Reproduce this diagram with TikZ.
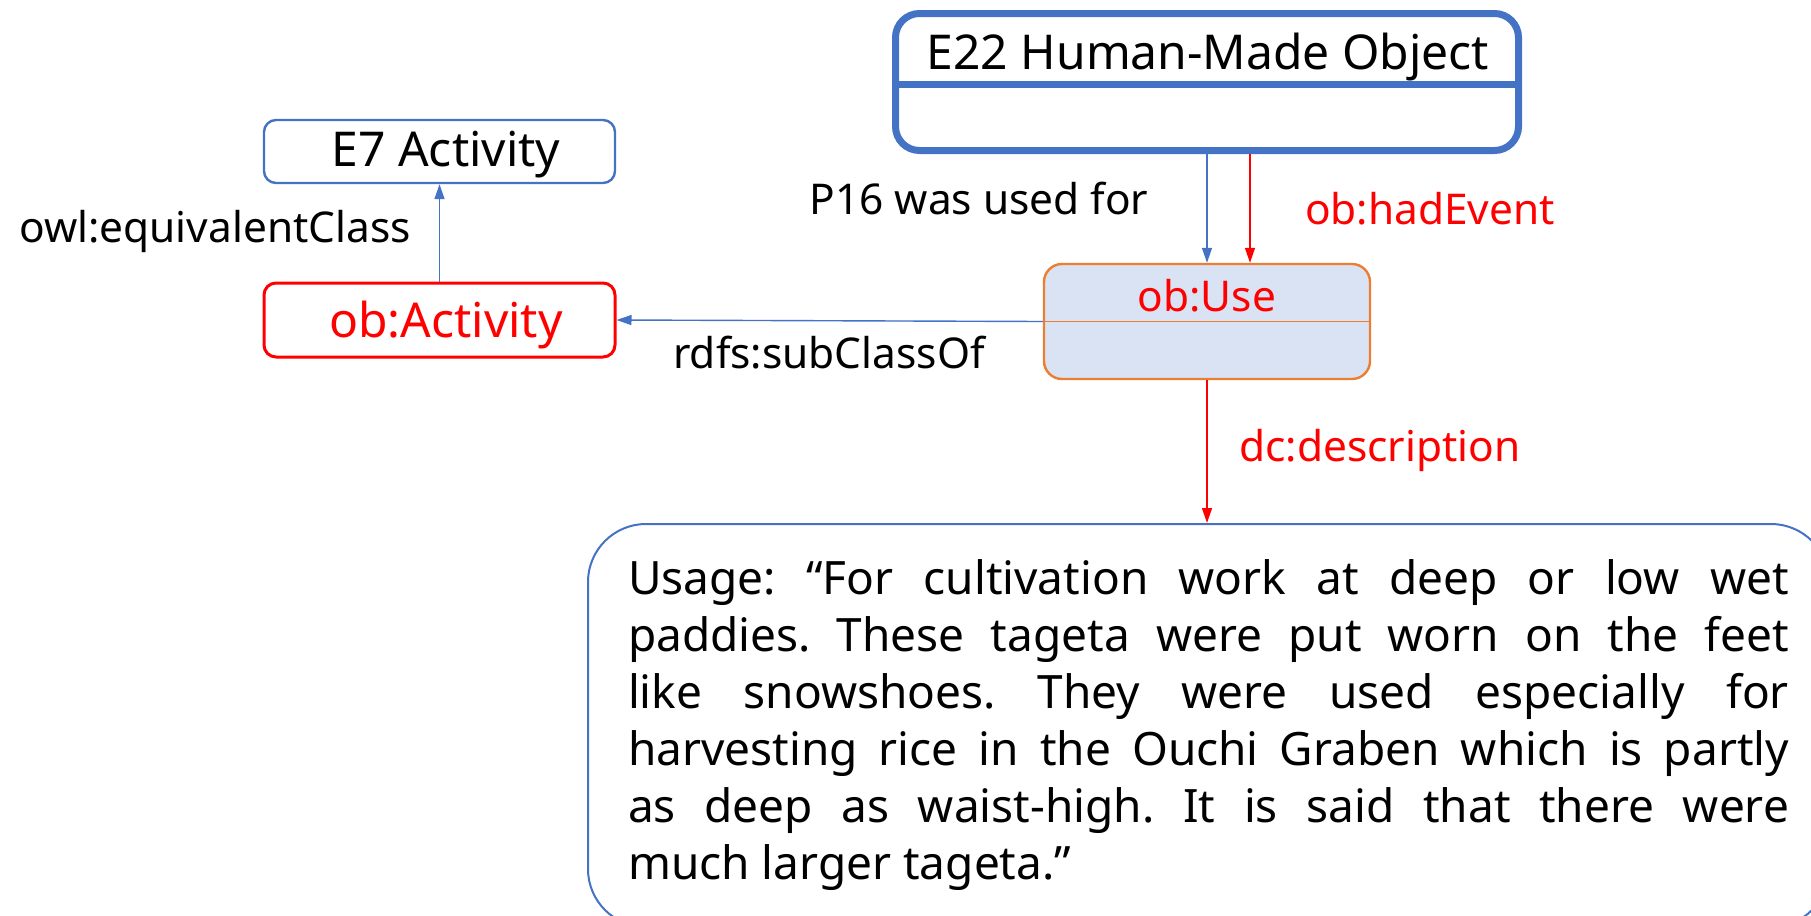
\documentclass[tikz,border=0pt]{standalone}
\usepackage{fontspec}
\setmainfont{Noto Sans}
\usetikzlibrary{arrows.meta}
\definecolor{cblue}{HTML}{4472C4}
\definecolor{corange}{HTML}{ED7D31}
\definecolor{cfill}{HTML}{DAE3F3}
\definecolor{cred}{HTML}{FF0000}
\frenchspacing
\begin{document}
\begin{tikzpicture}[x=0.5pt,y=-0.5pt,
  tip/.style={-{Triangle[length=7.5pt,width=5pt]}},
  bluearrow/.style={tip,draw=cblue,fill=cblue,line width=0.7pt},
  redarrow/.style={tip,draw=cred,fill=cred,line width=0.7pt},
  lbl/.style={inner sep=0pt,font=\fontsize{21.2}{25}\selectfont},
  classbox/.style={rectangle,rounded corners=6pt,inner sep=0pt}]
\clip (0,0) rectangle (1811,916);
\useasboundingbox (0,0) rectangle (1811,916);
% E22
\node[classbox,draw=cblue,line width=3.5pt,rounded corners=12pt,minimum width=311.5pt,minimum height=68.5pt] (e22) at (1207,82) {};
\draw[cblue,line width=3.5pt] (e22.west |- 0,84) -- (e22.east |- 0,84);
\node[inner sep=0pt,font=\fontsize{24}{29}\selectfont] (e22t) at (1208,57) {E22 Human-Made Object};
% E7
\node[classbox,draw=cblue,line width=1.2pt,minimum width=175.5pt,minimum height=31.5pt] (e7) at (439.5,151.5) {};
\node[inner sep=0pt,font=\fontsize{24}{29}\selectfont] (e7t) at (446,155) {E7 Activity};
% ob:Activity
\node[classbox,draw=cred,line width=1.5pt,minimum width=175.5pt,minimum height=37pt] (obact) at (439.5,320) {};
\node[inner sep=0pt,text=cred,font=\fontsize{24}{29}\selectfont] (obactt) at (446,325) {ob:Activity};
% ob:Use
\node[classbox,draw=corange,fill=cfill,line width=1.2pt,rounded corners=9pt,minimum width=163pt,minimum height=57.5pt] (obuse) at (1207,321.5) {};
\draw[corange,line width=0.6pt] (obuse.west) -- (obuse.east);
\node[inner sep=0pt,text=cred,font=\fontsize{21.2}{26}\selectfont] (obuset) at (1207,296) {ob:Use};
% description
\node[draw=cblue,line width=1pt,rounded corners=29pt,anchor=north west,inner xsep=20pt,inner ysep=18pt,text width=580.5pt,align=justify,font=\fontsize{23}{28.5}\selectfont] (desc) at (587,523) {Usage: “For cultivation work at deep or low wet\linebreak paddies. These tageta were put worn on the feet\linebreak like snowshoes. They were used especially for\linebreak harvesting rice in the Ouchi Graben which is partly\linebreak as deep as waist-high. It is said that there were\linebreak much larger tageta.”};
% connectors
\draw[bluearrow] (e22.south) -- (obuse.north);
\draw[redarrow] ([xshift=21.5pt]e22.south) -- ([xshift=21.5pt]obuse.north);
\draw[bluearrow] (obact.north) -- (e7.south);
\draw[bluearrow] (obuse.west) -- (obact.east);
\draw[redarrow] (obuse.south) -- (obuse.south |- desc.north);
% labels
\node[lbl] (l1) at (215,231) {owl:equivalentClass};
\node[lbl] (l2) at (979,198) {P16 was used for};
\node[lbl,text=cred] (l3) at (1430,209) {ob:hadEvent};
\node[lbl] (l4) at (829,353) {rdfs:subClassOf};
\node[lbl,text=cred] (l5) at (1380,450) {dc:description};
\end{tikzpicture}
\end{document}
